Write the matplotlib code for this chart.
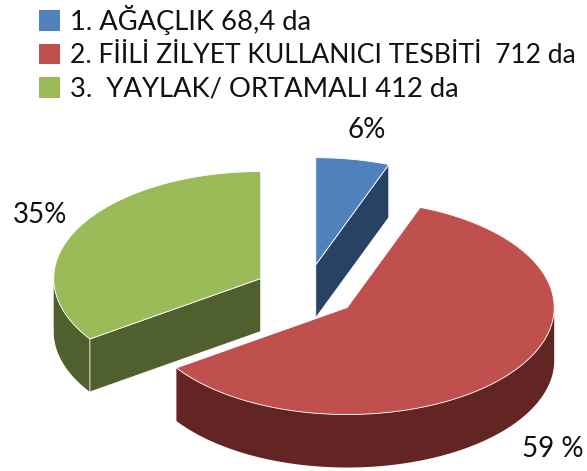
import numpy as np
import matplotlib.pyplot as plt
from matplotlib.patches import Patch, Polygon

plt.rcParams['font.family'] = ['Lato', 'DejaVu Sans']

labels = ['1. AĞAÇLIK 68,4 da', '2. FİİLİ ZİLYET KULLANICI TESBİTİ  712 da', '3.  YAYLAK/ ORTAMALI 412 da']
values = [68.4, 712, 412]
pct_labels = ['6%', '59 %', '35%']

top_colors = ['#4F81BD', '#C0504D', '#9BBB59']
side_colors = ['#274263', '#632523', '#4F5F2D']

# pie geometry in pixels
cx, cy = 306.5, 291
rx, ry = 207, 107
explode = 0.25
depth = 53

fig = plt.figure(figsize=(5.87, 4.71), dpi=100)
ax = fig.add_axes([0, 0, 1, 1])
ax.set_xlim(0, 587)
ax.set_ylim(471, 0)
ax.axis('off')

shares = np.array(values) / sum(values) * 2 * np.pi
ends = np.cumsum(shares)
starts = ends - shares


def rim(a, b, ox, oy):
    t = np.linspace(a, b, 120)
    return np.column_stack([ox + rx * np.sin(t), oy - ry * np.cos(t)])


def face(pts, color, z, lw=0.6):
    ax.add_patch(Polygon(pts, closed=True, facecolor=color, edgecolor='white', linewidth=lw, zorder=z))


# back to front: green, blue, red
for i, z in [(2, 1), (0, 2), (1, 3)]:
    a, b = starts[i], ends[i]
    mid = (a + b) / 2
    ox = cx + explode * rx * np.sin(mid)
    oy = cy - explode * ry * np.cos(mid)
    down = np.array([0, depth])
    apex = np.array([[ox, oy]])

    # outer wall, only the front half of the rim shows
    lo, hi = max(a, np.pi / 2), min(b, 3 * np.pi / 2)
    if lo < hi:
        edge = rim(lo, hi, ox, oy)
        face(np.vstack([edge, edge[::-1] + down]), side_colors[i], z, lw=0)

    # cut faces that look toward the viewer
    if i == 0:
        p = rim(b, b, ox, oy)
        face(np.vstack([apex, p, p + down, apex + down]), side_colors[i], z)
    if i == 2:
        p = rim(a, a, ox, oy)
        face(np.vstack([apex, p, p + down, apex + down]), side_colors[i], z)

    face(np.vstack([apex, rim(a, b, ox, oy)]), top_colors[i], z + 0.5)

ax.text(367, 130, pct_labels[0], fontsize=20, ha='center', va='center', color='#111111')
ax.text(553, 449, pct_labels[1], fontsize=20, ha='center', va='center', color='#111111')
ax.text(40, 215, pct_labels[2], fontsize=20, ha='center', va='center', color='#111111')

handles = [Patch(facecolor=c, edgecolor='none') for c in top_colors]
leg = ax.legend(handles, labels, loc='upper left', bbox_to_anchor=(39 / 587, 1 - 5 / 471), frameon=False,
                fontsize=19.7, borderpad=0, borderaxespad=0, handlelength=0.76, handleheight=0.76,
                handletextpad=0.36, labelspacing=0.31, labelcolor='#111111')
# second line is a bit tighter in the original
leg.get_texts()[1].set_fontsize(19.1)

fig.savefig('out.png', dpi=100)
